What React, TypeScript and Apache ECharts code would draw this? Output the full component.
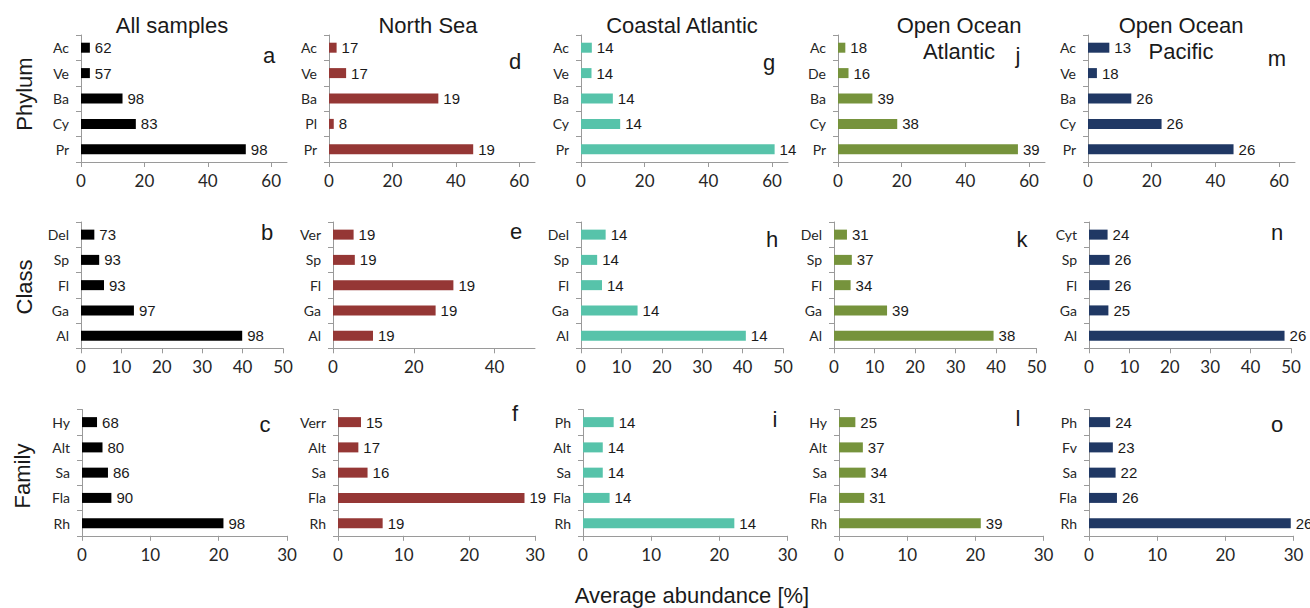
import React, { useEffect, useRef } from "react";
import * as echarts from "echarts";

// ---------- data ----------
const columnTitles = [["All samples"], ["North Sea"], ["Coastal Atlantic"], ["Open Ocean", "Atlantic"], ["Open Ocean", "Pacific"]];
const rowTitles = ["Phylum", "Class", "Family"];
const axisTitle = "Average abundance [%]";

// Phylum row
const catsA = ["Ac", "Ve", "Ba", "Cy", "Pr"];
const valsA = [2.8, 2.8, 13.1, 17.3, 52.0];
const lblsA = ["62", "57", "98", "83", "98"];
const catsD = ["Ac", "Ve", "Ba", "Pl", "Pr"];
const valsD = [2.4, 5.4, 34.5, 1.5, 45.5];
const lblsD = ["17", "17", "19", "8", "19"];
const catsG = ["Ac", "Ve", "Ba", "Cy", "Pr"];
const valsG = [3.4, 3.3, 10.0, 12.3, 60.8];
const lblsG = ["14", "14", "14", "14", "14"];
const catsJ = ["Ac", "De", "Ba", "Cy", "Pr"];
const valsJ = [2.3, 3.3, 10.8, 18.6, 56.5];
const lblsJ = ["18", "16", "39", "38", "39"];
const catsM = ["Ac", "Ve", "Ba", "Cy", "Pr"];
const valsM = [6.7, 2.8, 13.6, 23.1, 45.7];
const lblsM = ["13", "18", "26", "26", "26"];

// Class row
const catsB = ["Del", "Sp", "Fl", "Ga", "Al"];
const valsB = [3.3, 4.5, 5.7, 13.1, 39.9];
const lblsB = ["73", "93", "93", "97", "98"];
const catsE = ["Ver", "Sp", "Fl", "Ga", "Al"];
const valsE = [5.1, 5.4, 29.8, 25.4, 9.9];
const lblsE = ["19", "19", "19", "19", "19"];
const catsH = ["Del", "Sp", "Fl", "Ga", "Al"];
const valsH = [6.1, 4.0, 5.2, 14.0, 40.8];
const lblsH = ["14", "14", "14", "14", "14"];
const catsK = ["Del", "Sp", "Fl", "Ga", "Al"];
const valsK = [3.2, 4.4, 4.1, 13.1, 39.4];
const lblsK = ["31", "37", "34", "39", "38"];
const catsN = ["Cyt", "Sp", "Fl", "Ga", "Al"];
const valsN = [4.6, 5.1, 5.1, 4.8, 48.4];
const lblsN = ["24", "26", "26", "25", "26"];

// Family row
const catsC = ["Hy", "Alt", "Sa", "Fla", "Rh"];
const valsC = [2.2, 3.0, 3.8, 4.3, 20.7];
const lblsC = ["68", "80", "86", "90", "98"];
const catsF = ["Verr", "Alt", "Sa", "Fla", "Rh"];
const valsF = [3.5, 3.1, 4.5, 28.4, 6.8];
const lblsF = ["15", "17", "16", "19", "19"];
const catsI = ["Ph", "Alt", "Sa", "Fla", "Rh"];
const valsI = [4.5, 2.9, 2.9, 3.9, 22.2];
const lblsI = ["14", "14", "14", "14", "14"];
const catsL = ["Hy", "Alt", "Sa", "Fla", "Rh"];
const valsL = [2.4, 3.5, 3.9, 3.7, 20.8];
const lblsL = ["25", "37", "34", "31", "39"];
const catsO = ["Ph", "Fv", "Sa", "Fla", "Rh"];
const valsO = [3.1, 3.5, 3.9, 4.1, 29.6];
const lblsO = ["24", "23", "22", "26", "26"];

// axis tick labels
const ticksPhylum = [0, 20, 40, 60];
const ticksClass = [0, 10, 20, 30, 40, 50];
const ticksClassNS = [0, 20, 40];
const ticksFamily = [0, 10, 20, 30];

const panels = [
  { row: 0, col: 0, letter: "a", cats: catsA, vals: valsA, lbls: lblsA, ticks: ticksPhylum },
  { row: 0, col: 1, letter: "d", cats: catsD, vals: valsD, lbls: lblsD, ticks: ticksPhylum },
  { row: 0, col: 2, letter: "g", cats: catsG, vals: valsG, lbls: lblsG, ticks: ticksPhylum },
  { row: 0, col: 3, letter: "j", cats: catsJ, vals: valsJ, lbls: lblsJ, ticks: ticksPhylum },
  { row: 0, col: 4, letter: "m", cats: catsM, vals: valsM, lbls: lblsM, ticks: ticksPhylum },
  { row: 1, col: 0, letter: "b", cats: catsB, vals: valsB, lbls: lblsB, ticks: ticksClass },
  { row: 1, col: 1, letter: "e", cats: catsE, vals: valsE, lbls: lblsE, ticks: ticksClassNS },
  { row: 1, col: 2, letter: "h", cats: catsH, vals: valsH, lbls: lblsH, ticks: ticksClass },
  { row: 1, col: 3, letter: "k", cats: catsK, vals: valsK, lbls: lblsK, ticks: ticksClass },
  { row: 1, col: 4, letter: "n", cats: catsN, vals: valsN, lbls: lblsN, ticks: ticksClass },
  { row: 2, col: 0, letter: "c", cats: catsC, vals: valsC, lbls: lblsC, ticks: ticksFamily },
  { row: 2, col: 1, letter: "f", cats: catsF, vals: valsF, lbls: lblsF, ticks: ticksFamily },
  { row: 2, col: 2, letter: "i", cats: catsI, vals: valsI, lbls: lblsI, ticks: ticksFamily },
  { row: 2, col: 3, letter: "l", cats: catsL, vals: valsL, lbls: lblsL, ticks: ticksFamily },
  { row: 2, col: 4, letter: "o", cats: catsO, vals: valsO, lbls: lblsO, ticks: ticksFamily },
];

// ---------- layout / style ----------
const colColors = ["#000000", "#953735", "#57C3AA", "#76933C", "#203864"];
const rowMax = [65, 50, 30];
const rowTop = [35, 222, 409.5];
const rowHeight = [127, 126.3, 126.3];
// [left, width] per panel (same order as panels)
const gridBox = [
  [81, 206], [329, 206], [581, 207], [838, 207], [1088, 207],
  [81, 202], [333, 202], [581, 202], [834, 202.5], [1089, 202],
  [82, 205], [338, 197], [583, 204.5], [839, 204.5], [1089, 204.5],
];
// letter [x, y]
const letterPos = [
  [269, 55], [515, 61], [769, 62], [1018, 55], [1277, 58],
  [267, 232], [516, 231], [772, 239], [1022, 239], [1277, 232],
  [265, 424], [515, 413], [775, 419], [1018, 418], [1277, 424],
];
const titleX = [172, 428, 682, 959, 1181];
const rowLabelPos = [[24, 94], [24, 287], [22, 476]];

const TITLE_FONT = "Liberation Sans, Arial, sans-serif";
const AXIS_FONT = "Lato, Carlito, sans-serif";
const AXIS_COLOR = "#9a9a9a";

export default function App() {
  const ref = useRef<HTMLDivElement>(null);

  useEffect(() => {
    if (!ref.current) return;
    const chart = echarts.init(ref.current, null, { renderer: "svg" });

    const grid: any[] = [];
    const xAxis: any[] = [];
    const yAxis: any[] = [];
    const series: any[] = [];
    const graphic: any[] = [];

    panels.forEach((p, i) => {
      const [left, width] = gridBox[i];
      grid.push({
        left, width, top: rowTop[p.row], height: rowHeight[p.row],
        containLabel: false, outerBoundsMode: "none",
      });
      xAxis.push({
        type: "value", gridIndex: i, min: 0, max: rowMax[p.row],
        interval: p.ticks[1] - p.ticks[0],
        axisLine: { show: true, lineStyle: { color: AXIS_COLOR, width: 1 } },
        axisTick: { show: true, length: 5, lineStyle: { color: AXIS_COLOR }, customValues: p.ticks },
        axisLabel: {
          show: true, customValues: p.ticks, margin: 10, color: "#262626",
          fontSize: 17, fontFamily: AXIS_FONT,
        },
        splitLine: { show: false },
      });
      yAxis.push({
        type: "category", gridIndex: i, inverse: true, data: p.cats,
        axisLine: { show: true, lineStyle: { color: AXIS_COLOR, width: 1 } },
        axisTick: { show: true, length: 5, lineStyle: { color: AXIS_COLOR } },
        axisLabel: { margin: 12, color: "#262626", fontSize: 14, fontFamily: AXIS_FONT },
        splitLine: { show: false },
      });
      const lbls = p.lbls;
      series.push({
        type: "bar", xAxisIndex: i, yAxisIndex: i, data: p.vals, barWidth: 10,
        itemStyle: { color: colColors[p.col] },
        label: {
          show: true, position: "right", distance: 5,
          formatter: (d: any) => lbls[d.dataIndex],
          color: "#1a1a1a", fontSize: 15, fontFamily: TITLE_FONT,
        },
        silent: true,
      });
      graphic.push({
        type: "text", x: letterPos[i][0], y: letterPos[i][1],
        style: {
          text: p.letter, fill: "#1a1a1a", font: `22px ${TITLE_FONT}`,
          textAlign: "center", align: "center", textVerticalAlign: "middle", verticalAlign: "middle",
        },
      });
    });

    columnTitles.forEach((lines, c) => {
      lines.forEach((line, k) => {
        graphic.push({
          type: "text", x: titleX[c], y: 25 + k * 26.6,
          style: {
            text: line, fill: "#1a1a1a", font: `22px ${TITLE_FONT}`,
            textAlign: "center", align: "center", textVerticalAlign: "middle", verticalAlign: "middle",
          },
        });
      });
    });

    rowTitles.forEach((t, r) => {
      graphic.push({
        type: "text", x: rowLabelPos[r][0], y: rowLabelPos[r][1], rotation: Math.PI / 2,
        style: {
          text: t, fill: "#1a1a1a", font: `22px ${TITLE_FONT}`,
          textAlign: "center", align: "center", textVerticalAlign: "middle", verticalAlign: "middle",
        },
      });
    });

    graphic.push({
      type: "text", x: 692, y: 595,
      style: {
        text: axisTitle, fill: "#1a1a1a", font: `22px ${TITLE_FONT}`,
        textAlign: "center", align: "center", textVerticalAlign: "middle", verticalAlign: "middle",
      },
    });

    chart.setOption({
      animation: false,
      backgroundColor: "#ffffff",
      grid, xAxis, yAxis, series, graphic,
      tooltip: { show: false },
    });

    return () => chart.dispose();
  }, []);

  return (
    <div
      ref={ref}
      style={{ position: "absolute", left: 0, top: 0, width: 1310, height: 608, background: "#fff" }}
    />
  );
}
